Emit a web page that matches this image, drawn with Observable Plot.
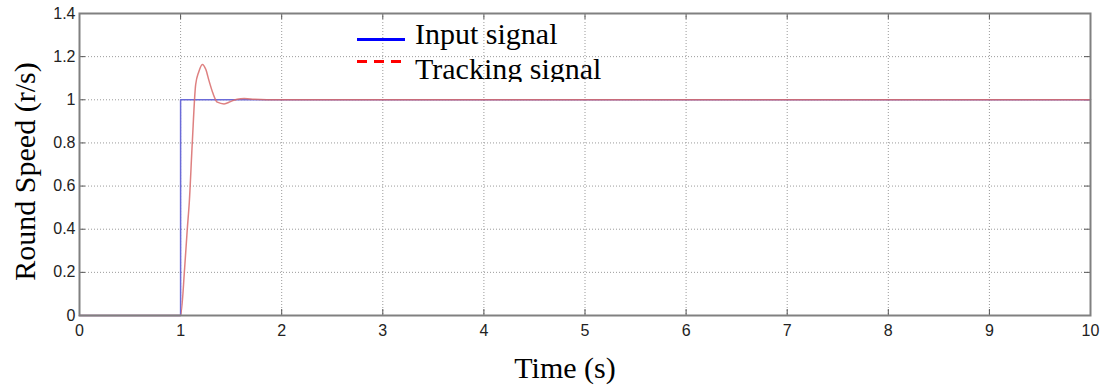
<!DOCTYPE html>
<html>
<head>
<meta charset="utf-8">
<script src="https://cdn.jsdelivr.net/npm/d3@7"></script>
<script src="https://cdn.jsdelivr.net/npm/@observablehq/plot@0.6"></script>
<style>
  html, body { margin: 0; padding: 0; background: #fff; }
  #wrap { position: relative; width: 1105px; height: 387px; }
  #legend { position: absolute; left: 340px; top: 0; width: 290px; height: 82px; overflow: hidden;
            font-family: "Liberation Serif", "Times New Roman", serif; font-size: 30px; line-height: 30px; color: #000; }
  .lt { position: absolute; left: 75px; white-space: nowrap; }
  .sw { position: absolute; left: 17px; width: 48px; height: 3px; }
</style>
</head>
<body>
<div id="wrap">
  <div id="chart"></div>
  <div id="legend">
    <div class="sw" style="top:37.5px; background:#0000ff;"></div>
    <div class="lt" style="top:19px;">Input signal</div>
    <div class="sw" style="top:60px; background: repeating-linear-gradient(90deg,#ff0000 0 10px,rgba(255,255,255,0) 10px 17px);"></div>
    <div class="lt" style="top:54px;">Tracking signal</div>
  </div>
</div>
<script>
const xTicks = [0,1,2,3,4,5,6,7,8,9,10];
const yTicks = [0,0.2,0.4,0.6,0.8,1,1.2,1.4];
const yTickLabels = ["0","0.2","0.4","0.6","0.8","1","1.2","1.4"];

const inputTime  = [0, 1, 1, 10];
const inputValue = [0, 0, 1, 1];

const trackTime  = [0, 1.0, 1.04, 1.066, 1.086, 1.115, 1.149, 1.18, 1.215, 1.25, 1.28, 1.32, 1.363, 1.43, 1.495, 1.56, 1.63, 1.73, 1.85, 2.0, 10];
const trackValue = [0, 0, 0.22, 0.40, 0.525, 0.796, 1.07, 1.13, 1.164, 1.14, 1.09, 1.03, 0.989, 0.981, 0.992, 1.003, 1.006, 1.002, 1.0, 1.0, 1.0];

const inputData = inputTime.map((t, i) => ({t, v: inputValue[i]}));
const trackData = trackTime.map((t, i) => ({t, v: trackValue[i]}));

const W = 1105, H = 387;
const mL = 79, mR = 15, mT = 13, mB = 72;
const plotH = H - mT - mB, plotW = W - mL - mR;
const tickLen = 6;
const tickFont = "'Liberation Sans', Arial, Helvetica, sans-serif";
const serif = "'Liberation Serif', 'Times New Roman', serif";

const chart = Plot.plot({
  width: W, height: H,
  marginLeft: mL, marginRight: mR, marginTop: mT, marginBottom: mB,
  x: {domain: [0, 10]},
  y: {domain: [0, 1.4]},
  style: {background: "#fff"},
  marks: [
    Plot.gridX(xTicks.slice(1, -1), {stroke: "#9a9a9a", strokeOpacity: 1, strokeDasharray: "1,2"}),
    Plot.gridY(yTicks.slice(1, -1), {stroke: "#9a9a9a", strokeOpacity: 1, strokeDasharray: "1,2"}),
    Plot.ruleX(xTicks, {x: d => d, insetTop: plotH - tickLen, stroke: "#555"}),
    Plot.ruleX(xTicks, {x: d => d, insetBottom: plotH - tickLen, stroke: "#555"}),
    Plot.ruleY(yTicks, {y: d => d, insetRight: plotW - tickLen, stroke: "#555"}),
    Plot.ruleY(yTicks, {y: d => d, insetLeft: plotW - tickLen, stroke: "#555"}),
    Plot.line(inputData, {x: "t", y: "v", stroke: "#6b6bd8", strokeWidth: 1.5}),
    Plot.line(trackData, {x: "t", y: "v", stroke: "#d86a6a", strokeWidth: 1.5, strokeOpacity: 0.85, curve: "monotone-x"}),
    Plot.frame({stroke: "#808080", strokeWidth: 2}),
    Plot.axisX(xTicks, {tickSize: 0, tickPadding: 9, fontSize: 16, fontFamily: tickFont, fill: "#222", label: null}),
    Plot.axisY(yTicks, {tickSize: 0, tickPadding: 4, fontSize: 16, fontFamily: tickFont, fill: "#222", label: null,
      tickFormat: d => yTickLabels[yTicks.indexOf(d)]}),
    Plot.text(["Round Speed (r/s)"], {frameAnchor: "left", textAnchor: "middle", lineAnchor: "middle", dx: -54, dy: 7, rotate: -90, fontSize: 30, fontFamily: serif, fill: "#000"}),
    Plot.text(["Time (s)"], {frameAnchor: "bottom", textAnchor: "middle", lineAnchor: "middle", dx: -20, dy: 53, fontSize: 30, fontFamily: serif, fill: "#000"})
  ]
});
document.getElementById("chart").appendChild(chart);
</script>
</body>
</html>
